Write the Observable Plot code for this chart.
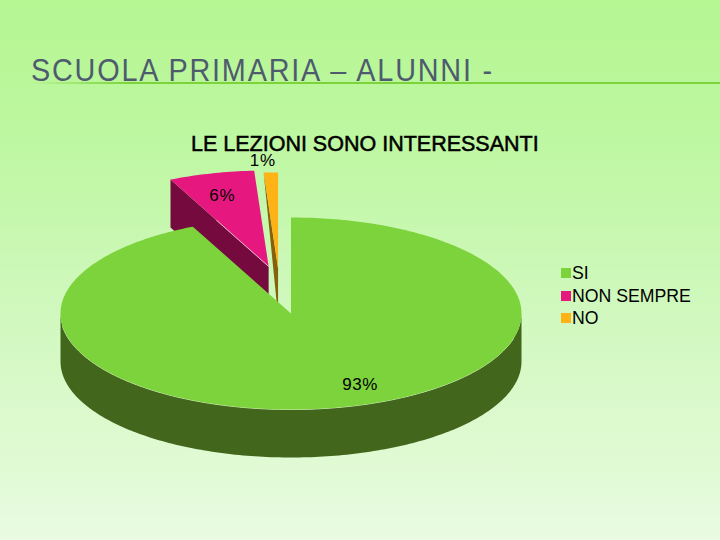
<!DOCTYPE html>
<html>
<head>
<meta charset="utf-8">
<script src="https://cdn.jsdelivr.net/npm/d3@7"></script>
<script src="https://cdn.jsdelivr.net/npm/@observablehq/plot@0.6"></script>
<style>
html,body{margin:0;padding:0;}
body{width:720px;height:540px;overflow:hidden;position:relative;font-family:"Liberation Sans",Arial,sans-serif;
 background:linear-gradient(180deg,#b6f692 0%,#bdf7a0 25%,#cff8bc 55%,#e0fad3 85%,#e9fbe3 100%);}
#title{position:absolute;left:31px;top:52px;font-size:32px;line-height:37px;color:#4e5b6f;white-space:nowrap;letter-spacing:2px;transform:scaleX(0.9);transform-origin:0 0;}
#rule{position:absolute;left:31px;top:82px;width:689px;height:2px;background:linear-gradient(90deg,rgba(125,211,59,0) 0%,#7dd33b 14%,#7dd33b 100%);}
#chartTitle{position:absolute;left:191px;top:131px;font-size:21.5px;line-height:26px;color:#000;white-space:nowrap;-webkit-text-stroke:0.5px #000;z-index:1;}
#legend{position:absolute;left:561px;top:262px;font-size:17.7px;line-height:22.5px;color:#000;}
#legend div{display:flex;align-items:center;white-space:nowrap;}
#legend i{display:block;width:10px;height:10px;margin-right:1px;}
#chart{position:absolute;left:0;top:0;}
</style>
</head>
<body>
<div id="chart"></div>
<div id="rule"></div>
<div id="title"></div>
<div id="chartTitle"></div>
<div id="legend"></div>
<script>
// Data
const heading = "SCUOLA PRIMARIA – ALUNNI -";
const chartTitle = "LE LEZIONI SONO INTERESSANTI";
const categories = ["SI", "NON SEMPRE", "NO"];
const shares = [93, 6, 1];
const percentLabels = ["93%", "6%", "1%"];

// Styles
const topColors = ["#7dd33b", "#e6187f", "#fdb216"];
const wallColors = ["#41661c", "#740a3d", "#86610b"];
// Layout of the exploded 3-D pie, in units of the pie's radius
const depth = 0.5;
const explode = [[0, 0], [-0.097, 0.49], [-0.056, 0.47]];
const labelNudge = [[39, 15], [-12, -15], [-11, -50]];

const total = d3.sum(shares);
let acc = 0;
const slices = categories.map((cat, i) => {
  const a0 = acc / total * 360; acc += shares[i];
  const a1 = acc / total * 360;
  return {cat, i, a0, a1, ox: explode[i][0], oy: explode[i][1]};
});
const rad = d => d * Math.PI / 180;
const rimPoint = (s, a, r = 1, dz = 0) => ({
  cat: s.cat, x: s.ox + r * Math.sin(rad(a)), y: s.oy + r * Math.cos(rad(a)) - dz
});
function arc(s, from, to, dz = 0) {
  const n = Math.max(2, Math.ceil(Math.abs(to - from)));
  return d3.range(n + 1).map(k => rimPoint(s, from + (to - from) * k / n, 1, dz));
}
const topFace = s => [rimPoint(s, 0, 0), ...arc(s, s.a0, s.a1)];

const [si, nonSempre, no] = slices;
// Walls
const siWall = [...arc(si, 90, 270), ...arc(si, 270, 90, depth)];
const nonSempreWall = [
  rimPoint(nonSempre, nonSempre.a0), rimPoint(nonSempre, 0, 0),
  rimPoint(nonSempre, 0, 0, depth), rimPoint(nonSempre, nonSempre.a0, 1, depth)
];
const noWall = [rimPoint(no, no.a0), rimPoint(no, 0, 0), rimPoint(no, 0, 0, depth)];
// Pale highlights
const siRim = arc(si, 105, 262);
const pinkEdge = [rimPoint(nonSempre, 0, 0), rimPoint(nonSempre, nonSempre.a0, 0.53)];

const labels = slices.map((s, i) => {
  const p = rimPoint(s, (s.a0 + s.a1) / 2, 0.6);
  return {x: p.x, y: p.y, text: percentLabels[i], i};
});

const face = (data) => Plot.line(data, {x: "x", y: "y", z: "cat", fill: "cat", stroke: "none", curve: "linear"});
const wall = (data, i) => Plot.line(data, {x: "x", y: "y", fill: wallColors[i], stroke: "none", curve: "linear"});

const plot = Plot.plot({
  width: 720, height: 540,
  margin: 0,
  style: {background: "transparent", fontFamily: "'Liberation Sans',Arial,sans-serif", letterSpacing: "0.6px"},
  x: {domain: [-1, 1], range: [60, 521], axis: null},
  y: {domain: [-1, 1], range: [409, 217], axis: null},
  color: {domain: categories, range: topColors},
  marks: [
    wall(nonSempreWall, 1),
    face(topFace(nonSempre)),
    wall(noWall, 2),
    face(topFace(no)),
    wall(siWall, 0),
    Plot.line(siRim, {x: "x", y: "y", stroke: "#dff5c8", strokeWidth: 0.9}),
    face(topFace(si)),
    Plot.line(pinkEdge, {x: "x", y: "y", stroke: "#f6d0e0", strokeWidth: 0.8}),
    ...labels.map(l => Plot.text([l], {
      x: "x", y: "y", text: "text", dx: labelNudge[l.i][0], dy: labelNudge[l.i][1],
      fontSize: 17, fill: "#000", stroke: "none"
    }))
  ]
});
document.getElementById("chart").append(plot);
document.getElementById("title").textContent = heading;
document.getElementById("chartTitle").textContent = chartTitle;
const legend = document.getElementById("legend");
categories.forEach((c, i) => {
  const row = document.createElement("div");
  const sw = document.createElement("i");
  sw.style.background = topColors[i];
  row.append(sw, document.createTextNode(c));
  legend.append(row);
});
</script>
</body>
</html>
